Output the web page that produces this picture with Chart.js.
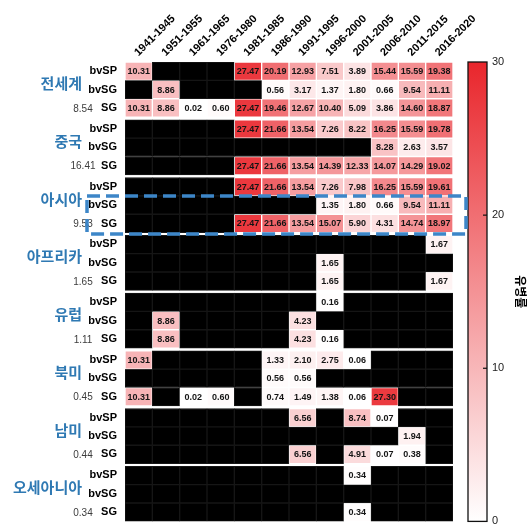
<!DOCTYPE html>
<html>
<head>
<meta charset="utf-8">
<script src="https://cdn.jsdelivr.net/npm/chart.js@4.4.1/dist/chart.umd.min.js"></script>
<style>
  html, body { margin: 0; padding: 0; background: #fff; }
  #wrap { width: 529px; height: 529px; position: relative; }
  canvas { display: block; }
</style>
</head>
<body>
<div id="wrap"><canvas id="c" width="529" height="529"></canvas></div>
<script>
// Time periods (columns)
const periods = ['1941-1945', '1951-1955', '1961-1965', '1976-1980', '1981-1985', '1986-1990',
                 '1991-1995', '1996-2000', '2001-2005', '2006-2010', '2011-2015', '2016-2020'];

// Regions (row groups) and the overall figure printed beside each
const regions = ['전세계', '중국', '아시아', '아프리카', '유럽', '북미', '남미', '오세아니아'];
const regionTotals = ['8.54', '16.41', '9.53', '1.65', '1.11', '0.45', '0.44', '0.34'];
const rowTypes = ['bvSP', 'bvSG', 'SG'];
const colorbarTicks = [0, 10, 20, 30];

const _ = null; // no data

// 전세계
const worldBvSP = [10.31, _, _, _, 27.47, 20.19, 12.93, 7.51, 3.89, 15.44, 15.59, 19.38];
const worldBvSG = [_, 8.86, _, _, _, 0.56, 3.17, 1.37, 1.80, 0.66, 9.54, 11.11];
const worldSG   = [10.31, 8.86, 0.02, 0.60, 27.47, 19.46, 12.67, 10.40, 5.09, 3.86, 14.60, 18.87];
// 중국
const chinaBvSP = [_, _, _, _, 27.47, 21.66, 13.54, 7.26, 8.22, 16.25, 15.59, 19.78];
const chinaBvSG = [_, _, _, _, _, _, _, _, _, 8.28, 2.63, 3.57];
const chinaSG   = [_, _, _, _, 27.47, 21.66, 13.54, 14.39, 12.33, 14.07, 14.29, 19.02];
// 아시아
const asiaBvSP = [_, _, _, _, 27.47, 21.66, 13.54, 7.26, 7.98, 16.25, 15.59, 19.61];
const asiaBvSG = [_, _, _, _, _, _, _, 1.35, 1.80, 0.66, 9.54, 11.11];
const asiaSG   = [_, _, _, _, 27.47, 21.66, 13.54, 15.07, 5.90, 4.31, 14.74, 18.97];
// 아프리카
const africaBvSP = [_, _, _, _, _, _, _, _, _, _, _, 1.67];
const africaBvSG = [_, _, _, _, _, _, _, 1.65, _, _, _, _];
const africaSG   = [_, _, _, _, _, _, _, 1.65, _, _, _, 1.67];
// 유럽
const europeBvSP = [_, _, _, _, _, _, _, 0.16, _, _, _, _];
const europeBvSG = [_, 8.86, _, _, _, _, 4.23, _, _, _, _, _];
const europeSG   = [_, 8.86, _, _, _, _, 4.23, 0.16, _, _, _, _];
// 북미
const nAmericaBvSP = [10.31, _, _, _, _, 1.33, 2.10, 2.75, 0.06, _, _, _];
const nAmericaBvSG = [_, _, _, _, _, 0.56, 0.56, _, _, _, _, _];
const nAmericaSG   = [10.31, _, 0.02, 0.60, _, 0.74, 1.49, 1.38, 0.06, 27.30, _, _];
// 남미
const sAmericaBvSP = [_, _, _, _, _, _, 6.56, _, 8.74, 0.07, _, _];
const sAmericaBvSG = [_, _, _, _, _, _, _, _, _, _, 1.94, _];
const sAmericaSG   = [_, _, _, _, _, _, 6.56, _, 4.91, 0.07, 0.38, _];
// 오세아니아
const oceaniaBvSP = [_, _, _, _, _, _, _, _, 0.34, _, _, _];
const oceaniaBvSG = [_, _, _, _, _, _, _, _, _, _, _, _];
const oceaniaSG   = [_, _, _, _, _, _, _, _, 0.34, _, _, _];

const groups = [
  [worldBvSP, worldBvSG, worldSG],
  [chinaBvSP, chinaBvSG, chinaSG],
  [asiaBvSP, asiaBvSG, asiaSG],
  [africaBvSP, africaBvSG, africaSG],
  [europeBvSP, europeBvSG, europeSG],
  [nAmericaBvSP, nAmericaBvSG, nAmericaSG],
  [sAmericaBvSP, sAmericaBvSG, sAmericaSG],
  [oceaniaBvSP, oceaniaBvSG, oceaniaSG]
];

// Row geometry in y-scale units: each row is 1 unit, groups separated by a small gap
const GAP = 0.14;
const groupStart = g => g * (3 + GAP);
const rowTop = (g, k) => groupStart(g) + k;
const Y_MAX = groups.length * 3 + (groups.length - 1) * GAP;

// Colour scale: white (0) -> red (30)
const CMAX = 30;
const RED = [233, 38, 44];
function heatColor(v) {
  if (v === null) return '#000000';
  const t = Math.max(0, Math.min(1, v / CMAX));
  const c = RED.map(ch => Math.round(255 + (ch - 255) * t));
  return `rgb(${c[0]},${c[1]},${c[2]})`;
}

const datasets = [];
const rowCenters = [];
groups.forEach((rows, g) => {
  rows.forEach((vals, k) => {
    const top = rowTop(g, k);
    rowCenters.push(top + 0.5);
    datasets.push({
      label: regions[g] + ' ' + rowTypes[k],
      data: periods.map(() => [top, top + 1]),
      values: vals,
      backgroundColor: vals.map(heatColor),
      borderColor: vals.map(v => v === null ? '#161616' : 'rgba(255,255,255,0.55)'),
      borderWidth: 1,
      borderSkipped: false,
      grouped: false,
      barPercentage: 1,
      categoryPercentage: 1,
      yAxisID: 'y'
    });
  });
});

const LATIN = '"Liberation Sans", Arial, sans-serif';
const KOREAN = '"Noto Sans CJK KR", "Noto Sans", sans-serif';

const decor = {
  id: 'decor',
  afterDatasetsDraw(chart) {
    const ctx = chart.ctx;
    const ys = chart.scales.y;
    const cb = chart.scales.cb;
    const area = chart.chartArea;

    // cell values
    ctx.save();
    ctx.font = 'bold 9px ' + LATIN;
    ctx.fillStyle = '#141414';
    ctx.textAlign = 'center';
    ctx.textBaseline = 'middle';
    chart.data.datasets.forEach((ds, di) => {
      const meta = chart.getDatasetMeta(di);
      meta.data.forEach((el, i) => {
        const v = ds.values[i];
        if (v === null) return;
        ctx.fillText(v.toFixed(2), el.x, (el.y + el.base) / 2 + 0.5);
      });
    });
    ctx.restore();

    // region names and totals
    ctx.save();
    groups.forEach((rows, g) => {
      const yName = (ys.getPixelForValue(rowTop(g, 0) + 0.5) + ys.getPixelForValue(rowTop(g, 1) + 0.5)) / 2 + 3;
      ctx.font = 'bold 15px ' + KOREAN;
      ctx.fillStyle = '#2f79b3';
      ctx.textAlign = 'right';
      ctx.textBaseline = 'middle';
      ctx.fillText(regions[g], area.left - 43, yName);
      ctx.font = '10px ' + LATIN;
      ctx.fillStyle = '#3c3c3c';
      ctx.textAlign = 'center';
      ctx.fillText(regionTotals[g], area.left - 42, ys.getPixelForValue(rowTop(g, 2) + 0.5) + 1);
    });
    ctx.restore();

    // colour bar
    ctx.save();
    const x0 = area.right + 15, w = 19;
    const yTop = cb.getPixelForValue(CMAX), yBot = cb.getPixelForValue(0);
    const grad = ctx.createLinearGradient(0, yBot, 0, yTop);
    grad.addColorStop(0, heatColor(0));
    grad.addColorStop(1, heatColor(CMAX));
    ctx.fillStyle = grad;
    ctx.fillRect(x0, yTop, w, yBot - yTop);
    ctx.strokeStyle = '#111';
    ctx.lineWidth = 1.3;
    ctx.strokeRect(x0, yTop, w, yBot - yTop);
    ctx.lineWidth = 1.2;
    colorbarTicks.forEach(t => {
      if (t === 0 || t === CMAX) return;
      const py = cb.getPixelForValue(t);
      ctx.beginPath();
      ctx.moveTo(x0 + w - 4, py);
      ctx.lineTo(x0 + w, py);
      ctx.stroke();
    });
    ctx.restore();

    // highlight frame around the 아시아 bvSG / SG rows
    ctx.save();
    const hg = regions.indexOf('아시아');
    const fy0 = ys.getPixelForValue(rowTop(hg, 1));
    const fy1 = ys.getPixelForValue(rowTop(hg, 3) + GAP / 2);
    ctx.strokeStyle = '#3d86c8';
    ctx.lineWidth = 3.5;
    ctx.setLineDash([13, 6]);
    ctx.strokeRect(area.left - 38, fy0, (area.right + 13) - (area.left - 38), fy1 - fy0);
    ctx.restore();
  }
};

new Chart(document.getElementById('c'), {
  type: 'bar',
  data: { labels: periods, datasets },
  options: {
    responsive: false,
    animation: false,
    layout: { padding: 0 },
    plugins: { legend: { display: false }, tooltip: { enabled: false } },
    scales: {
      x: {
        type: 'category',
        position: 'top',
        grid: { display: false, drawTicks: false },
        border: { display: false },
        ticks: {
          autoSkip: false,
          minRotation: 45,
          maxRotation: 45,
          padding: 3,
          labelOffset: 7,
          color: '#000',
          font: { family: LATIN, size: 11, weight: 'bold' }
        },
        afterFit: s => { s.height = 62; }
      },
      y: {
        type: 'linear',
        position: 'left',
        reverse: true,
        min: 0,
        max: Y_MAX,
        grid: { display: true, drawOnChartArea: false, drawTicks: true, tickLength: 7, color: 'rgba(0,0,0,0)' },
        border: { display: false },
        afterBuildTicks: s => { s.ticks = rowCenters.map(v => ({ value: v })); },
        ticks: {
          autoSkip: false,
          padding: 1,
          color: '#000',
          font: { family: LATIN, size: 11, weight: 'bold' },
          callback: (v, i) => rowTypes[i % 3]
        },
        afterFit: s => { s.width = 125; }
      },
      cb: {
        type: 'linear',
        position: 'right',
        min: 0,
        max: CMAX,
        grid: { display: true, drawOnChartArea: false, drawTicks: true, tickLength: 38, color: 'rgba(0,0,0,0)' },
        border: { display: false },
        afterBuildTicks: s => { s.ticks = colorbarTicks.map(v => ({ value: v })); },
        ticks: {
          padding: 1,
          color: '#222',
          font: { family: LATIN, size: 11 }
        },
        title: {
          display: true,
          text: '유병률',
          color: '#000',
          padding: 1,
          font: { family: KOREAN, size: 12, weight: 'bold' }
        },
        afterFit: s => { s.width = 76; }
      }
    }
  },
  plugins: [decor]
});
</script>
</body>
</html>
